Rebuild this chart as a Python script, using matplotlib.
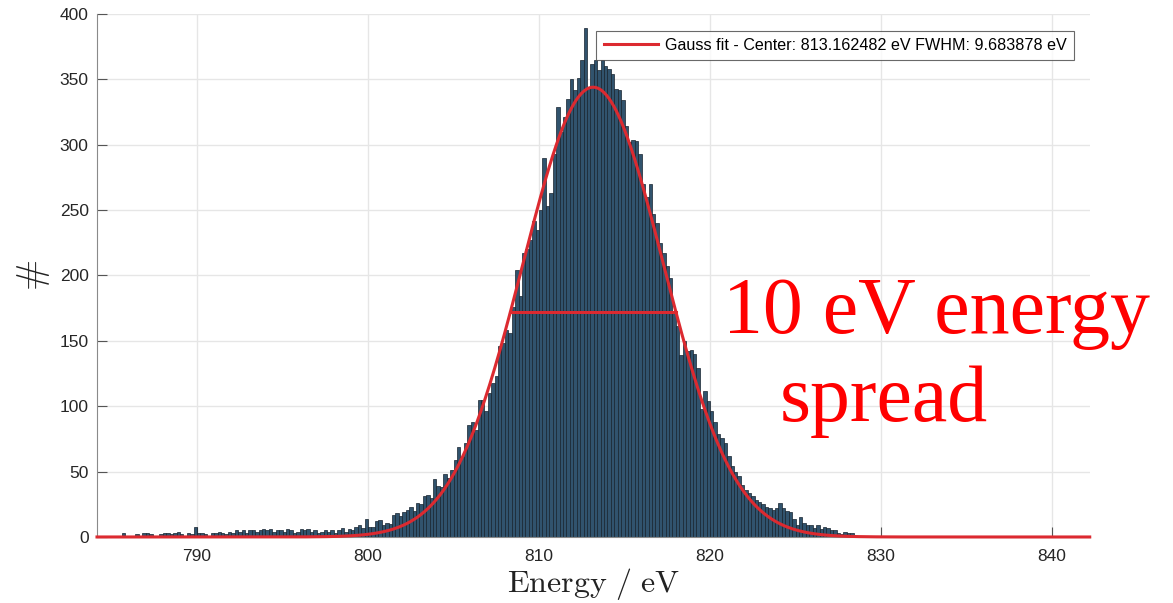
import numpy as np
import matplotlib
matplotlib.use("Agg")
import matplotlib.pyplot as plt

# histogram: 0.2 eV bins, first bin starts at 784.2 eV
BIN_START = 784.2
BIN_WIDTH = 0.2
counts = [
    1, 0, 1, 0, 0, 1, 1, 3, 1, 0,            # 784.2 - 786.2
    1, 2, 1, 3, 3, 2, 1, 0, 2, 3,            # 786.2 - 788.2
    3, 2, 3, 4, 2, 1, 3, 2, 8, 3,            # 788.2 - 790.2
    3, 2, 1, 3, 3, 4, 3, 2, 4, 3,            # 790.2 - 792.2
    5, 4, 5, 3, 5, 5, 4, 5, 6, 5,            # 792.2 - 794.2
    6, 4, 5, 5, 4, 6, 5, 3, 4, 6,            # 794.2 - 796.2
    5, 6, 4, 5, 3, 4, 5, 4, 5, 3,            # 796.2 - 798.2
    5, 7, 4, 6, 5, 8, 9, 7, 14, 8,           # 798.2 - 800.2
    8, 12, 13, 9, 11, 10, 17, 18, 16, 19,    # 800.2 - 802.2
    21, 23, 20, 26, 25, 31, 32, 30, 44, 39,  # 802.2 - 804.2
    38, 48, 45, 51, 59, 69, 61, 72, 86, 88,  # 804.2 - 806.2
    82, 105, 105, 96, 110, 118, 123, 146, 148, 158,   # 806.2 - 808.2
    156, 176, 204, 184, 217, 220, 227, 242, 235, 250,  # 808.2 - 810.2
    290, 253, 263, 293, 329, 310, 321, 335, 350, 342,  # 810.2 - 812.2
    351, 365, 389, 344, 362, 365, 357, 365, 360, 358,  # 812.2 - 814.2
    354, 343, 342, 334, 314, 302, 304, 303, 293, 270,  # 814.2 - 816.2
    260, 270, 247, 240, 225, 217, 207, 198, 173, 161,  # 816.2 - 818.2
    139, 150, 142, 143, 140, 129, 98, 112, 104, 96,    # 818.2 - 820.2
    88, 79, 76, 72, 62, 54, 50, 47, 40, 36,            # 820.2 - 822.2
    34, 31, 28, 27, 25, 23, 22, 21, 22, 26,            # 822.2 - 824.2
    22, 20, 19, 14, 9, 15, 11, 9, 9, 7,                # 824.2 - 826.2
    9, 6, 8, 7, 5, 5, 3, 2, 4, 3,                      # 826.2 - 828.2
    3, 1, 1, 0, 0, 1, 0, 0, 0, 0,                      # 828.2 - 830.2
]

# Gauss fit parameters (from legend)
FIT_CENTER = 813.162482
FIT_FWHM = 9.683878
FIT_AMP = 344.0

XLIM = (784.15, 842.2)
YLIM = (0, 400)
XTICKS = [790, 800, 810, 820, 830, 840]
YTICKS = [0, 50, 100, 150, 200, 250, 300, 350, 400]

plt.rcParams["font.family"] = ["Liberation Sans", "DejaVu Sans"]
plt.rcParams["mathtext.fontset"] = "cm"

fig = plt.figure(figsize=(11.73, 6.03), dpi=100)
ax = fig.add_axes([0.0827, 0.1095, 0.929 - 0.0827, 0.9768 - 0.1095])

counts = np.array(counts, dtype=float)
centers = BIN_START + BIN_WIDTH * (np.arange(len(counts)) + 0.5)
ax.bar(centers, counts, width=BIN_WIDTH, color="#31536d",
       edgecolor="#17232e", linewidth=0.5, zorder=2)

sigma = FIT_FWHM / (2 * np.sqrt(2 * np.log(2)))
xf = np.linspace(XLIM[0], XLIM[1], 800)
yf = FIT_AMP * np.exp(-0.5 * ((xf - FIT_CENTER) / sigma) ** 2)
red = "#dc2a30"
ax.plot(xf, yf, color=red, lw=2.2, zorder=3, clip_on=False,
        label="Gauss fit - Center: 813.162482 eV FWHM: 9.683878 eV")
ax.plot([FIT_CENTER - FIT_FWHM / 2, FIT_CENTER + FIT_FWHM / 2],
        [FIT_AMP / 2, FIT_AMP / 2], color=red, lw=2.2, zorder=3)

ax.set_xlim(*XLIM)
ax.set_ylim(*YLIM)
ax.set_xticks(XTICKS)
ax.set_yticks(YTICKS)
ax.grid(True, color="#e6e6e6", lw=1.0, zorder=0)
ax.set_axisbelow(True)
for s in ["top", "right"]:
    ax.spines[s].set_visible(False)
for s in ["left", "bottom"]:
    ax.spines[s].set_color("#8a8a8a")
ax.tick_params(direction="in", length=7, width=0.8, color="#555555",
               labelsize=12.5, labelcolor="#262626")
ax.tick_params(axis="x", pad=9)
ax.tick_params(axis="y", pad=6)

ax.set_xlabel(r"$\mathrm{Energy\ /\ eV}$", fontsize=23, labelpad=1,
              color="#222222")
ax.set_ylabel(r"$\#$", fontsize=27, color="#222222")
ax.yaxis.set_label_coords(-0.045, 0.5)

leg = ax.legend(loc="upper right", bbox_to_anchor=(0.984, 0.968),
                fontsize=11.6, frameon=True, fancybox=False,
                handlelength=3.4, borderpad=0.45, handletextpad=0.4,
                borderaxespad=0.0)
leg.get_frame().set_edgecolor("#444444")
leg.get_frame().set_linewidth(0.8)

fig.text(723 / 1173, 1 - 333 / 603, "10 eV energy", color="#ff0000",
         fontsize=57.5, family="Liberation Serif", ha="left", va="baseline")
fig.text(780 / 1173, 1 - 421 / 603, "spread", color="#ff0000",
         fontsize=57.5, family="Liberation Serif", ha="left", va="baseline")

fig.savefig("out.png", dpi=100)
